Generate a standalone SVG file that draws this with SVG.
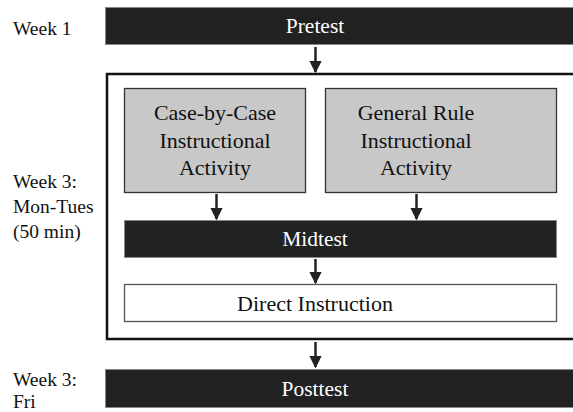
<svg xmlns="http://www.w3.org/2000/svg" width="573" height="412" viewBox="0 0 573 412">
<defs>
<style>
text{font-family:"Liberation Serif","Times New Roman",serif;}
.lbl{font-size:19.5px;fill:#111;}
.bar{fill:#222;stroke:#888;stroke-width:1;}
.barT{font-size:21.5px;fill:#fff;text-anchor:middle;}
.gray{fill:#c8c8c8;stroke:#333;stroke-width:1.3;}
.boxT{font-size:22px;fill:#111;text-anchor:middle;}
.conn{stroke:#222;stroke-width:2.5;fill:none;marker-end:url(#ah);}
</style>
<marker id="ah" viewBox="0 0 10 10" refX="9" refY="5" markerWidth="5" markerHeight="5" markerUnits="strokeWidth" orient="auto">
<path d="M0,0 L10,5 L0,10 Z" fill="#222"/>
</marker>
</defs>
<rect width="573" height="412" fill="#fff"/>
<g id="labels">
<text class="lbl" x="13" y="35">Week 1</text>
<text class="lbl" x="13" y="188">Week 3:</text>
<text class="lbl" x="13" y="213">Mon-Tues</text>
<text class="lbl" x="13" y="238">(50 min)</text>
<text class="lbl" x="13" y="386">Week 3:</text>
<text class="lbl" x="13" y="407.5">Fri</text>
</g>
<g id="outer">
<rect x="107" y="74" width="470" height="265" fill="#fff" stroke="#111" stroke-width="2.5"/>
</g>
<g id="pretest">
<rect class="bar" x="105.5" y="7.5" width="470" height="37"/>
<text class="barT" x="315" y="33">Pretest</text>
</g>
<g id="casebycase">
<rect class="gray" x="124.5" y="88.5" width="181" height="104"/>
<text class="boxT" x="215" y="120">Case-by-Case</text>
<text class="boxT" x="215" y="147.5">Instructional</text>
<text class="boxT" x="215" y="175">Activity</text>
</g>
<g id="generalrule">
<rect class="gray" x="325.5" y="88.5" width="231" height="104"/>
<text class="boxT" x="416" y="120">General Rule</text>
<text class="boxT" x="416" y="147.5">Instructional</text>
<text class="boxT" x="416" y="175">Activity</text>
</g>
<g id="midtest">
<rect class="bar" x="124.5" y="220.5" width="432" height="37"/>
<text class="barT" x="315" y="246">Midtest</text>
</g>
<g id="direct">
<rect x="124.5" y="284.5" width="432" height="37" fill="#fff" stroke="#555" stroke-width="1.3"/>
<text class="boxT" x="315" y="311">Direct Instruction</text>
</g>
<g id="posttest">
<rect class="bar" x="105.5" y="369.5" width="470" height="38"/>
<text class="barT" x="315" y="396">Posttest</text>
</g>
<g id="connectors">
<line class="conn" x1="315.5" y1="47" x2="315.5" y2="72"/>
<line class="conn" x1="216.5" y1="194" x2="216.5" y2="219"/>
<line class="conn" x1="416.5" y1="194" x2="416.5" y2="219"/>
<line class="conn" x1="315.5" y1="259" x2="315.5" y2="283"/>
<line class="conn" x1="315.5" y1="342" x2="315.5" y2="367"/>
</g>
</svg>
